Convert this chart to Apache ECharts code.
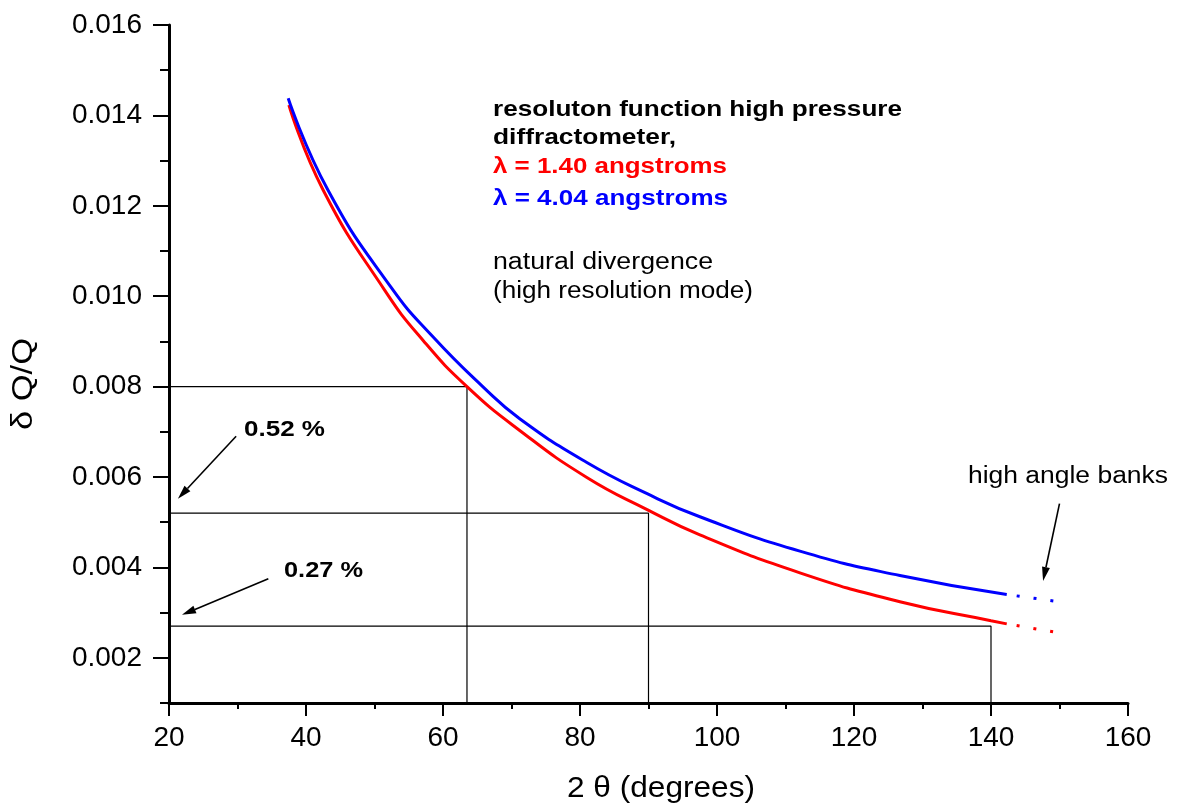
<!DOCTYPE html>
<html>
<head>
<meta charset="utf-8">
<title>Resolution function, high pressure diffractometer</title>
<script src="https://cdn.jsdelivr.net/npm/echarts@6/dist/echarts.min.js"></script>
<style>
  html, body { margin: 0; padding: 0; background: #fff; }
  #chart { width: 1177px; height: 808px; }
</style>
</head>
<body>
<div id="chart"></div>
<script>
// Resolution dQ/Q versus scattering angle 2θ for two wavelengths
const redAngle = [37.5, 42.5, 51.5, 57.1, 63.5, 71.2, 81.0, 89.8, 97.5, 112.1, 126.7, 140.0, 142.3];
const redRes   = [0.01423, 0.01235, 0.01013, 0.00902, 0.0080, 0.00703, 0.00599, 0.00528, 0.00472, 0.00388, 0.00324, 0.00282, 0.00275];
const blueAngle = [37.4, 43.2, 52.4, 58.6, 65.8, 71.2, 81.0, 89.8, 97.5, 112.1, 126.7, 142.3];
const blueRes   = [0.01438, 0.01235, 0.0102, 0.00909, 0.0080, 0.00729, 0.00632, 0.00563, 0.00512, 0.00436, 0.00382, 0.0034];

// high angle banks (dotted continuation)
const redTailAngle  = [142.3, 150.0];
const redTailRes    = [0.00275, 0.00255];
const blueTailAngle = [142.3, 150.0];
const blueTailRes   = [0.0034, 0.00324];

// guide lines: level on the dQ/Q axis and the angle where it drops to the baseline
const guideLevels = [0.008, 0.0052, 0.0027];
const guideAngles = [63.5, 90.0, 140.0];

// axis ticks
const xTicks = [20, 40, 60, 80, 100, 120, 140, 160];
const yMajorTicks = [0.002, 0.004, 0.006, 0.008, 0.010, 0.012, 0.014, 0.016];
const yMinorTicks = [0.001, 0.003, 0.005, 0.007, 0.009, 0.011, 0.013, 0.015];

const FONT = "'Liberation Sans', Arial, Helvetica, sans-serif";
const zip = (xs, ys) => xs.map((x, i) => [x, ys[i]]);

const chart = echarts.init(document.getElementById('chart'), null, { renderer: 'canvas' });

const axisLineStyle = { color: '#000', width: 3 };
const tickStyle = { color: '#000', width: 2 };

const guideSeries = guideLevels.map((lvl, i) => ({
  type: 'line',
  name: 'guide' + i,
  data: [[xTicks[0], lvl], [guideAngles[i], lvl], [guideAngles[i], yMinorTicks[0]]],
  showSymbol: false,
  silent: true,
  lineStyle: { color: '#000', width: 1.2 },
  z: 1
}));

const curve = (name, data, color) => ({
  type: 'line', name: name, data: data,
  smooth: 0.5, showSymbol: false,
  lineStyle: { color: color, width: 3 }, z: 3
});

const tail = (name, data, color) => ({
  type: 'line', name: name, data: data, showSymbol: false,
  lineStyle: { color: color, width: 3, type: [3, 14], dashOffset: -10 }, z: 3
});

chart.setOption({
  animation: false,
  backgroundColor: '#fff',
  grid: { left: 169, right: 49, top: 25, bottom: 105 },
  xAxis: {
    type: 'value',
    min: xTicks[0],
    max: xTicks[xTicks.length - 1],
    interval: 20,
    axisLine: { show: true, onZero: false, lineStyle: axisLineStyle },
    axisTick: { show: true, inside: false, length: 13, lineStyle: tickStyle },
    minorTick: { show: true, splitNumber: 2, length: 6, lineStyle: tickStyle },
    splitLine: { show: false },
    minorSplitLine: { show: false },
    axisLabel: { color: '#000', fontFamily: FONT, fontSize: 28, margin: 21 }
  },
  yAxis: [
    {
      type: 'value',
      min: 0.001,
      max: 0.016,
      axisLine: { show: true, onZero: false, lineStyle: axisLineStyle },
      axisTick: { show: true, inside: false, length: 16, lineStyle: tickStyle, customValues: yMajorTicks },
      splitLine: { show: false },
      axisLabel: {
        color: '#000', fontFamily: FONT, fontSize: 28, margin: 27,
        customValues: yMajorTicks,
        formatter: v => v.toFixed(3)
      }
    },
    {
      type: 'value',
      min: 0.001,
      max: 0.016,
      position: 'left',
      offset: 0,
      axisLine: { show: false },
      axisTick: { show: true, inside: false, length: 9, lineStyle: tickStyle, customValues: yMinorTicks },
      splitLine: { show: false },
      axisLabel: { show: false }
    }
  ],
  series: [
    ...guideSeries,
    curve('λ = 1.40 angstroms', zip(redAngle, redRes), '#ff0000'),
    curve('λ = 4.04 angstroms', zip(blueAngle, blueRes), '#0000ff'),
    tail('λ = 1.40 angstroms, high angle banks', zip(redTailAngle, redTailRes), '#ff0000'),
    tail('λ = 4.04 angstroms, high angle banks', zip(blueTailAngle, blueTailRes), '#0000ff')
  ]
});

// Captions: [text, left x, centre y, box width, font size, weight, colour, rotated]
const captions = [
  ['resoluton function high pressure', 493, 110, 409, 22, 'bold', '#000'],
  ['diffractometer,', 493, 138, 183, 22, 'bold', '#000'],
  ['λ = 1.40 angstroms', 493, 167, 234, 22, 'bold', '#ff0000'],
  ['λ = 4.04 angstroms', 493, 199, 235, 22, 'bold', '#0000ff'],
  ['natural divergence', 493, 263, 220, 23, 'normal', '#000'],
  ['(high resolution mode)', 493, 292, 260, 23, 'normal', '#000'],
  ['high angle banks', 968, 477, 200, 23, 'normal', '#000'],
  ['0.52 %', 244, 430, 81, 22, 'bold', '#000'],
  ['0.27 %', 284, 571, 79, 22, 'bold', '#000'],
  ['2 θ (degrees)', 567, 789, 188, 30, 'normal', '#000'],
  ['δ Q/Q', 24, 384, 92, 30, 'normal', '#000', true]
];

// Arrows in data coordinates: [from, to]
const arrows = [
  [[29.8, 0.0069], [21.3, 0.00552]],
  [[34.5, 0.00375], [21.9, 0.00295]],
  [[150.0, 0.00541], [147.6, 0.0037]]
];

const measureCtx = document.createElement('canvas').getContext('2d');
function fitScale(text, size, weight, width) {
  measureCtx.font = weight + ' ' + size + 'px ' + FONT;
  const w = measureCtx.measureText(text).width;
  return w > 0 ? width / w : 1;
}

function buildGraphics() {
  const els = [];
  captions.forEach(([text, x, y, w, size, weight, color, rotated]) => {
    const s = fitScale(text, size, weight, w);
    els.push({
      type: 'text',
      x: x, y: y,
      rotation: rotated ? Math.PI / 2 : 0,
      scaleX: s,
      style: {
        text: text,
        fill: color,
        font: weight + ' ' + size + 'px ' + FONT,
        textAlign: rotated ? 'center' : 'left',
        textVerticalAlign: 'middle'
      },
      silent: true
    });
  });
  arrows.forEach(([from, to]) => {
    const p0 = chart.convertToPixel({ gridIndex: 0 }, from);
    const p1 = chart.convertToPixel({ gridIndex: 0 }, to);
    const dx = p1[0] - p0[0], dy = p1[1] - p0[1];
    const len = Math.hypot(dx, dy);
    const ux = dx / len, uy = dy / len;
    const headLen = 14, headHalf = 4;
    const bx = p1[0] - ux * headLen, by = p1[1] - uy * headLen;
    els.push({
      type: 'line',
      shape: { x1: p0[0], y1: p0[1], x2: bx, y2: by },
      style: { stroke: '#000', lineWidth: 1.6 },
      silent: true
    });
    els.push({
      type: 'polygon',
      shape: { points: [p1, [bx - uy * headHalf, by + ux * headHalf], [bx + uy * headHalf, by - ux * headHalf]] },
      style: { fill: '#000' },
      silent: true
    });
  });
  return els;
}

chart.setOption({ graphic: { elements: buildGraphics() } });
</script>
</body>
</html>
